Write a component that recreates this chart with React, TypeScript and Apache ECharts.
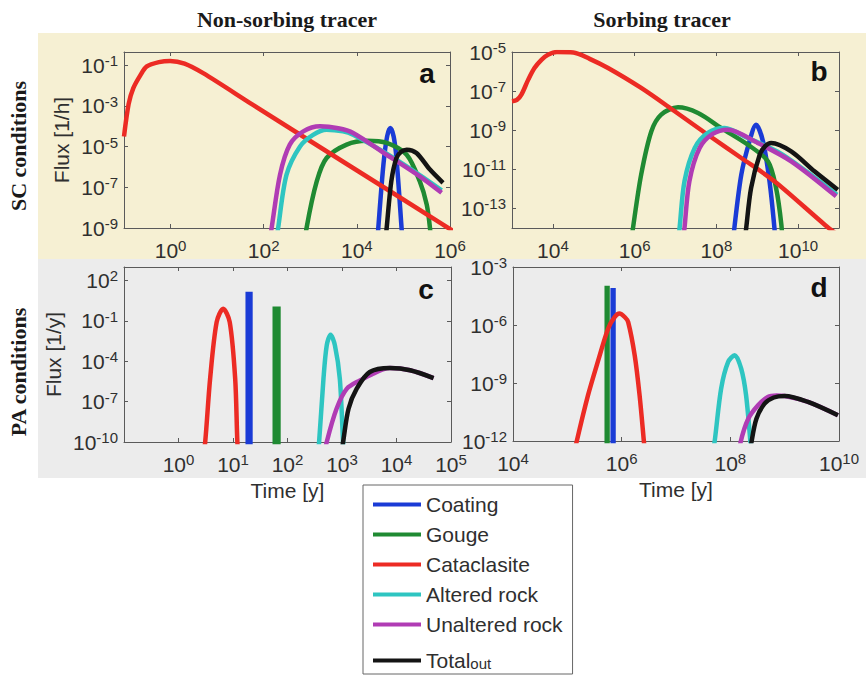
import React, { useEffect, useRef } from 'react';
import * as echarts from 'echarts';

const SERIES = ['Coating', 'Gouge', 'Cataclasite', 'Altered rock', 'Unaltered rock', 'Total'];
const COLORS = ['#1a3bd6', '#1f8a32', '#ec2b24', '#2ec5c1', '#b03cb4', '#141414'];

// Axis ranges and tick positions, as log10 exponents
const aXRange = [-1, 6];
const aYRange = [-9, -0.35];
const bXRange = [3, 11];
const bYRange = [-14, -5];
const cXRange = [-1, 5];
const cYRange = [-10, 3];
const dXRange = [4, 10];
const dYRange = [-12, -3];
const aXTicks = [0, 2, 4, 6];
const aYTicks = [-9, -7, -5, -3, -1];
const bXTicks = [4, 6, 8, 10];
const bYTicks = [-13, -11, -9, -7, -5];
const cXTicks = [0, 1, 2, 3, 4, 5];
const cYTicks = [-10, -7, -4, -1, 2];
const dXTicks = [4, 6, 8, 10];
const dYTicks = [-12, -9, -6, -3];

// Curves as [log10(time), log10(flux)]
// Panel a: non-sorbing tracer, SC conditions
const aCoating = [[4.43, -10], [4.46, -9], [4.57, -5.89], [4.65, -4.5], [4.72, -4.09], [4.79, -4.5], [4.85, -5.56], [4.96, -9], [4.99, -10]];
const aGouge = [[2.88, -10], [2.92, -9], [3.14, -6.7], [3.35, -5.56], [3.78, -4.9], [4.21, -4.71], [4.64, -4.82], [5.07, -5.4], [5.35, -6.7], [5.5, -7.85], [5.57, -9], [5.6, -10]];
const aCataclasite = [[-1, -4.5], [-0.9, -2.9], [-0.8, -2.13], [-0.65, -1.5], [-0.51, -1.06], [-0.25, -0.85], [-0.01, -0.79], [0.3, -0.92], [0.7, -1.39], [1.77, -2.95], [3.8, -5.88], [5.85, -8.83], [6.1, -9.2]];
const aAltered = [[2.25, -10], [2.31, -9], [2.49, -6.38], [2.78, -4.99], [3.06, -4.42], [3.35, -4.17], [3.7, -4.25], [3.92, -4.42], [4.64, -5.35], [5.35, -6.4], [5.82, -7.15]];
const aUnaltered = [[2.1, -10], [2.17, -9], [2.35, -6.38], [2.56, -4.9], [2.85, -4.25], [3.21, -4.0], [3.6, -4.1], [3.92, -4.33], [4.64, -5.4], [5.35, -6.46], [5.82, -7.27]];
const aTotal = [[4.6, -10], [4.64, -9], [4.74, -6.7], [4.85, -5.56], [4.95, -5.25], [5.07, -5.15], [5.28, -5.31], [5.57, -6.13], [5.85, -6.78]];

// Panel b: sorbing tracer, SC conditions
const bCoating = [[8.4, -15], [8.44, -14], [8.61, -11.27], [8.81, -9.57], [8.97, -8.72], [9.14, -9.57], [9.3, -11.61], [9.42, -14], [9.45, -15]];
const bGouge = [[5.9, -15], [5.96, -14], [6.16, -11.27], [6.41, -9.05], [6.65, -8.2], [7.06, -7.83], [7.55, -8.12], [8.12, -8.89], [8.77, -9.74], [9.26, -10.59], [9.46, -11.95], [9.59, -13.83], [9.62, -15]];
const bCataclasite = [[3, -7.52], [3.12, -7.45], [3.23, -7.18], [3.4, -6.4], [3.55, -5.82], [3.72, -5.4], [3.88, -5.14], [4.1, -5.0], [4.5, -5.02], [4.9, -5.35], [5.35, -5.82], [6.16, -6.84], [6.98, -8.03], [7.79, -9.23], [8.61, -10.42], [9.42, -11.61], [10.65, -13.83], [11, -14.4]];
const bAltered = [[7.05, -15], [7.1, -14], [7.22, -11.61], [7.47, -9.91], [7.79, -9.14], [8.2, -8.89], [8.77, -9.4], [9.5, -10.1], [10.2, -11.1], [10.95, -12.3]];
const bUnaltered = [[7.17, -15], [7.22, -14], [7.34, -11.61], [7.59, -9.91], [7.91, -9.19], [8.28, -8.97], [9.01, -9.65], [9.83, -10.59], [10.93, -12.38]];
const bTotal = [[8.68, -15], [8.73, -14], [8.85, -11.95], [9.06, -10.25], [9.2, -9.8], [9.34, -9.65], [9.83, -10.08], [10.4, -11.1], [10.97, -12.04]];

// Panel c: non-sorbing tracer, PA conditions
const cCoating = [[1.27, -11], [1.27, 1.0], [1.32, 1.0], [1.32, -11]];
const cGouge = [[1.766, -11], [1.766, -0.1], [1.834, -0.1], [1.834, -11]];
const cCataclasite = [[0.45, -11], [0.49, -10], [0.58, -5.3], [0.7, -1.09], [0.82, -0.1], [0.94, -1.09], [1.04, -5.3], [1.08, -10], [1.1, -11]];
const cAltered = [[2.55, -11], [2.58, -10], [2.66, -5.3], [2.72, -2.82], [2.79, -2.03], [2.87, -2.82], [2.96, -5.3], [3.02, -10], [3.04, -11]];
const cUnaltered = [[2.68, -11], [2.72, -10], [2.9, -7.53], [3.09, -6.04], [3.33, -5.42], [3.57, -4.93], [3.75, -4.6], [3.88, -4.5], [4.25, -4.67], [4.68, -5.25]];
const cTotal = [[2.98, -11], [3.02, -10], [3.12, -7.53], [3.27, -6.04], [3.51, -4.8], [3.88, -4.5], [4.25, -4.67], [4.68, -5.25]];

// Panel d: sorbing tracer, PA conditions
const dCoating = [[5.835, -13], [5.835, -4.2], [5.85, -4.2], [5.85, -13]];
const dGouge = [[5.725, -13], [5.725, -4.09], [5.74, -4.09], [5.74, -13]];
const dCataclasite = [[5.1, -13], [5.17, -12.05], [5.38, -9.64], [5.56, -7.91], [5.75, -6.19], [5.87, -5.59], [5.96, -5.41], [6.06, -5.6], [6.12, -5.85], [6.24, -7.57], [6.33, -9.64], [6.41, -12.05], [6.44, -13]];
const dAltered = [[7.65, -13], [7.71, -12.05], [7.83, -9.3], [7.96, -7.91], [8.08, -7.57], [8.2, -8.26], [8.29, -9.64], [8.37, -12.05], [8.4, -13]];
const dUnaltered = [[8.15, -13], [8.19, -12.05], [8.33, -10.85], [8.51, -10.15], [8.69, -9.72], [8.85, -9.65], [9.0, -9.67], [9.43, -9.98], [9.98, -10.67]];
const dTotal = [[8.35, -13], [8.39, -12.05], [8.48, -10.85], [8.63, -10.07], [8.8, -9.75], [9.0, -9.67], [9.43, -9.98], [9.98, -10.67]];

const FONT = 'Liberation Sans, Arial, sans-serif';
const SERIF = 'Liberation Serif, Times New Roman, serif';
const AXIS_COLOR = '#5a5a5a';
const TEXT_COLOR = '#2f2f2f';

const tickRich = {
  b: { fontSize: 21, lineHeight: 24, fontFamily: FONT, color: TEXT_COLOR },
  s: { fontSize: 15, lineHeight: 10, verticalAlign: 'top', fontFamily: FONT, color: TEXT_COLOR },
};
const fmt = (v: number) => `{b|10}{s|${Math.round(v)}}`;

const panels = [
  { grid: { left: 124, top: 52, width: 326, height: 176 }, xr: aXRange, yr: aYRange, xt: aXTicks, yt: aYTicks,
    data: [aCoating, aGouge, aCataclasite, aAltered, aUnaltered, aTotal], yName: 'Flux [1/h]', yGap: 52, xName: '', bars: [] as number[] },
  { grid: { left: 512, top: 52, width: 327, height: 176 }, xr: bXRange, yr: bYRange, xt: bXTicks, yt: bYTicks,
    data: [bCoating, bGouge, bCataclasite, bAltered, bUnaltered, bTotal], yName: '', yGap: 0, xName: '', bars: [] as number[] },
  { grid: { left: 124, top: 267, width: 327, height: 175 }, xr: cXRange, yr: cYRange, xt: cXTicks, yt: cYTicks,
    data: [cCoating, cGouge, cCataclasite, cAltered, cUnaltered, cTotal], yName: 'Flux [1/y]', yGap: 60, xName: 'Time [y]', bars: [0, 1] },
  { grid: { left: 513, top: 267, width: 326, height: 174 }, xr: dXRange, yr: dYRange, xt: dXTicks, yt: dYTicks,
    data: [dCoating, dGouge, dCataclasite, dAltered, dUnaltered, dTotal], yName: '', yGap: 0, xName: 'Time [y]', bars: [0, 1] },
];

function axisBase(gi: number, range: number[], ticks: number[], position: string, labels: boolean) {
  return {
    type: 'value',
    gridIndex: gi,
    min: range[0],
    max: range[1],
    position,
    axisLine: { show: true, onZero: false, lineStyle: { color: AXIS_COLOR, width: 1 } },
    axisTick: { show: true, inside: true, length: 4, customValues: ticks, lineStyle: { color: AXIS_COLOR } },
    axisLabel: { show: labels, customValues: ticks, formatter: fmt, rich: tickRich, margin: position === 'left' ? 6 : 10 },
    splitLine: { show: false },
  };
}

export default function App() {
  const ref = useRef<HTMLDivElement>(null);
  useEffect(() => {
    if (!ref.current) return;
    const chart = echarts.init(ref.current, undefined, { renderer: 'svg' });
    const xAxis: any[] = [];
    const yAxis: any[] = [];
    const series: any[] = [];
    panels.forEach((p, i) => {
      const xb: any = axisBase(i, p.xr, p.xt, 'bottom', true);
      if (p.xName) {
        xb.name = p.xName;
        xb.nameLocation = 'middle';
        xb.nameGap = 38;
        xb.nameTextStyle = { fontSize: 21, fontFamily: FONT, color: TEXT_COLOR };
      }
      xAxis.push(xb, axisBase(i, p.xr, p.xt, 'top', false));
      const yl: any = axisBase(i, p.yr, p.yt, 'left', true);
      if (p.yName) {
        yl.name = p.yName;
        yl.nameLocation = 'middle';
        yl.nameGap = p.yGap;
        yl.nameTextStyle = { fontSize: 21, fontFamily: FONT, color: TEXT_COLOR };
      }
      yAxis.push(yl, axisBase(i, p.yr, p.yt, 'right', false));
      p.data.forEach((d, k) => {
        const isBar = p.bars.indexOf(k) >= 0;
        series.push({
          type: 'line',
          name: SERIES[k],
          xAxisIndex: i * 2,
          yAxisIndex: i * 2,
          data: d,
          symbol: 'none',
          showSymbol: false,
          smooth: isBar ? false : 0.3,
          clip: true,
          lineStyle: { width: 4.5, color: COLORS[k], cap: 'butt', join: 'miter' },
          itemStyle: { color: COLORS[k] },
          z: 2 + k,
        });
      });
    });

    const option: any = {
      animation: false,
      backgroundColor: '#ffffff',
      grid: panels.map((p) => ({ ...p.grid, containLabel: false })),
      xAxis,
      yAxis,
      series,
      legend: {
        show: true,
        orient: 'vertical',
        left: 363,
        top: 485,
        height: 260,
        data: SERIES,
        icon: 'rect',
        itemWidth: 48,
        itemHeight: 4,
        itemGap: 9,
        padding: [9, 10, 3, 10],
        borderColor: '#666',
        borderWidth: 1,
        backgroundColor: '#ffffff',
        selectedMode: false,
        formatter: (name: string) => (name === 'Total' ? '{tt|Total}{sub|out}' : `{t|${name}}`),
        textStyle: {
          fontFamily: FONT,
          color: TEXT_COLOR,
          fontSize: 21,
          rich: {
            t: { fontSize: 21, lineHeight: 21, fontFamily: FONT, color: TEXT_COLOR },
            tt: { fontSize: 21, lineHeight: 21, verticalAlign: 'top', fontFamily: FONT, color: TEXT_COLOR },
            sub: { fontSize: 15, lineHeight: 15, padding: [12, 0, 0, 0], verticalAlign: 'bottom', fontFamily: FONT, color: TEXT_COLOR },
          },
        },
      },
      graphic: [
        { type: 'rect', z: -10, shape: { x: 38, y: 33, width: 828, height: 226 }, style: { fill: '#f6f0d3' }, silent: true },
        { type: 'rect', z: -10, shape: { x: 38, y: 259, width: 828, height: 219 }, style: { fill: '#ececec' }, silent: true },
        { type: 'text', z: 50, x: 287, y: 19, style: { text: 'Non-sorbing tracer', font: `bold 22px ${SERIF}`, fill: '#1a1a1a', textAlign: 'center', textVerticalAlign: 'middle' } },
        { type: 'text', z: 50, x: 662, y: 19, style: { text: 'Sorbing tracer', font: `bold 22px ${SERIF}`, fill: '#1a1a1a', textAlign: 'center', textVerticalAlign: 'middle' } },
        { type: 'text', z: 50, x: 18, y: 146, rotation: Math.PI / 2, style: { text: 'SC conditions', font: `bold 22px ${SERIF}`, fill: '#1a1a1a', textAlign: 'center', textVerticalAlign: 'middle' } },
        { type: 'text', z: 50, x: 18, y: 372, rotation: Math.PI / 2, style: { text: 'PA conditions', font: `bold 22px ${SERIF}`, fill: '#1a1a1a', textAlign: 'center', textVerticalAlign: 'middle' } },
        { type: 'text', z: 50, x: 427, y: 73, style: { text: 'a', font: `bold 28px ${FONT}`, fill: '#111', textAlign: 'center', textVerticalAlign: 'middle' } },
        { type: 'text', z: 50, x: 819, y: 71, style: { text: 'b', font: `bold 28px ${FONT}`, fill: '#111', textAlign: 'center', textVerticalAlign: 'middle' } },
        { type: 'text', z: 50, x: 426, y: 289, style: { text: 'c', font: `bold 28px ${FONT}`, fill: '#111', textAlign: 'center', textVerticalAlign: 'middle' } },
        { type: 'text', z: 50, x: 819, y: 287, style: { text: 'd', font: `bold 28px ${FONT}`, fill: '#111', textAlign: 'center', textVerticalAlign: 'middle' } },
      ],
    };
    chart.setOption(option);
    return () => chart.dispose();
  }, []);
  return (
    <div
      ref={ref}
      style={{ position: 'absolute', left: 0, top: 0, width: 866, height: 679, background: '#fff' }}
    />
  );
}
